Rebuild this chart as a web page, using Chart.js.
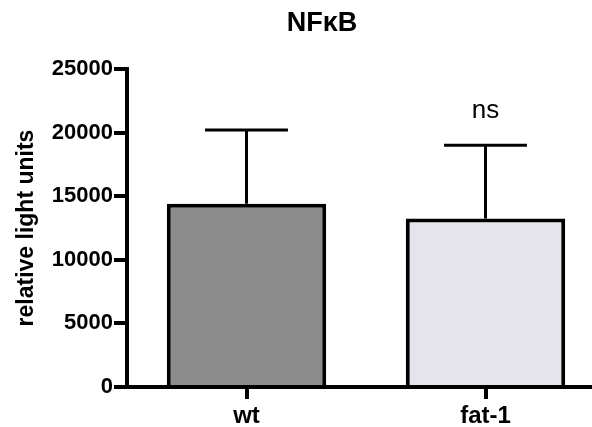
<!DOCTYPE html>
<html>
<head>
<meta charset="utf-8">
<script src="https://cdn.jsdelivr.net/npm/chart.js@4"></script>
<style>
  html, body { margin: 0; padding: 0; background: #fff; overflow: hidden; }
  #wrap { width: 644px; height: 427px; }
</style>
</head>
<body>
<div id="wrap"><canvas id="chart"></canvas></div>
<script>
const groups = ['wt', 'fat-1'];
const means = [14400, 13250];
const sdUpper = [20200, 19000];
const sigLabels = ['', 'ns'];
const barColors = ['#8c8c8c', '#e4e4ea'];
const yTicks = [0, 5000, 10000, 15000, 20000, 25000];
const chartTitle = 'NFκB';

const FONT = "'Liberation Sans', Arial, sans-serif";

// error bars (upper only), significance text and the title
const errorBars = {
  id: 'errorBars',
  afterDatasetsDraw(chart) {
    const ctx = chart.ctx;
    const x = chart.scales.x, y = chart.scales.y;
    const meta = chart.getDatasetMeta(0);
    ctx.save();
    ctx.strokeStyle = '#000';
    ctx.lineWidth = 3;
    meta.data.forEach((bar, i) => {
      const cx = x.getPixelForValue(i);
      const yTop = y.getPixelForValue(sdUpper[i]);
      const yBar = y.getPixelForValue(means[i]);
      const half = bar.width * 0.26;
      ctx.beginPath();
      ctx.moveTo(cx, yBar);
      ctx.lineTo(cx, yTop);
      ctx.moveTo(cx - half, yTop);
      ctx.lineTo(cx + half, yTop);
      ctx.stroke();
      if (sigLabels[i]) {
        ctx.fillStyle = '#000';
        ctx.font = '26px ' + FONT;
        ctx.textAlign = 'center';
        ctx.textBaseline = 'bottom';
        ctx.fillText(sigLabels[i], cx, yTop - 21);
      }
    });
    // title sits left of the plot centre in the original
    ctx.fillStyle = '#000';
    ctx.font = 'bold 27px ' + FONT;
    ctx.textAlign = 'center';
    ctx.textBaseline = 'middle';
    ctx.fillText(chartTitle, 322, 24);
    ctx.restore();
  }
};

new Chart(document.getElementById('chart'), {
  type: 'bar',
  data: {
    labels: groups,
    datasets: [{
      data: means,
      backgroundColor: barColors,
      borderColor: '#000',
      borderWidth: 4,
      barPercentage: 0.667,
      categoryPercentage: 1
    }]
  },
  options: {
    responsive: true,
    maintainAspectRatio: false,
    animation: false,
    layout: { padding: { left: 0, right: 39, top: 69, bottom: 0 } },
    plugins: {
      legend: { display: false },
      tooltip: { enabled: false },
      title: { display: false }
    },
    scales: {
      x: {
        afterFit: s => { s.height = 40; },
        border: { color: '#000', width: 4 },
        grid: { offset: false, drawOnChartArea: false, color: '#000', lineWidth: 4, tickLength: 12 },
        ticks: { color: '#000', padding: 3, font: { family: FONT, size: 24, weight: 'bold' } }
      },
      y: {
        min: 0,
        max: 25000,
        afterFit: s => { s.width = 127; },
        afterBuildTicks: s => { s.ticks = yTicks.map(v => ({ value: v })); },
        border: { color: '#000', width: 4 },
        grid: { drawOnChartArea: false, color: '#000', lineWidth: 4, tickLength: 13 },
        ticks: {
          color: '#000', padding: 1,
          font: { family: FONT, size: 22, weight: 'bold' },
          callback: v => String(v)
        },
        title: {
          display: true,
          text: 'relative light units',
          color: '#000',
          font: { family: FONT, size: 23, weight: 'bold' },
          padding: { top: 13, bottom: 0 }
        }
      }
    }
  },
  plugins: [errorBars]
});
</script>
</body>
</html>
